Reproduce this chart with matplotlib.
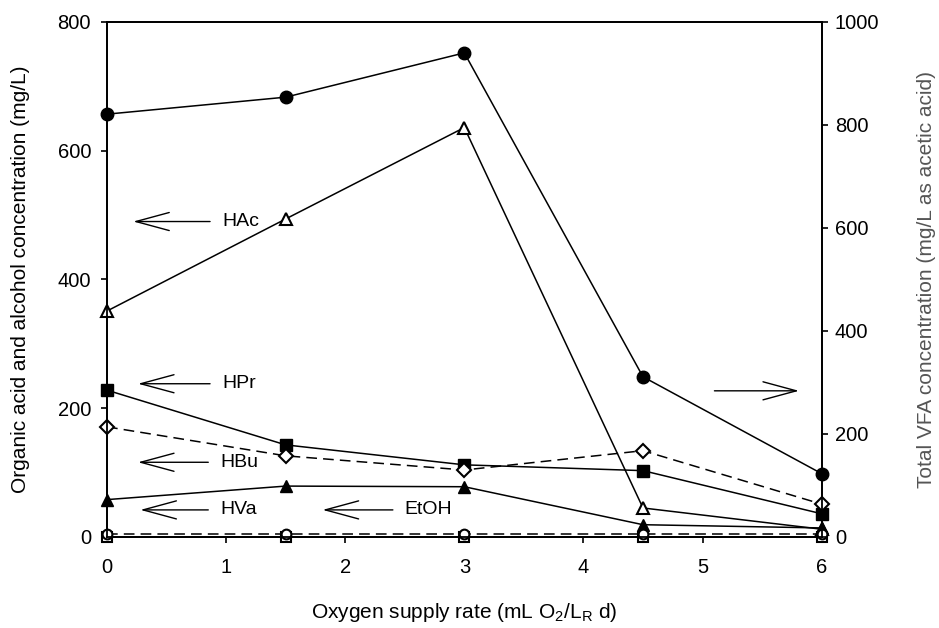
import numpy as np
import matplotlib.pyplot as plt

plt.rcParams['font.family'] = ['Liberation Sans', 'DejaVu Sans']
plt.rcParams['mathtext.default'] = 'regular'

# oxygen supply rate (mL O2/L_R d)
x = [0, 1.5, 3, 4.5, 6]

# organic acids and ethanol, mg/L (left axis)
hac = [351, 494, 636, 45, 12]
hpr = [228, 143, 112, 103, 36]
hbu = [171, 126, 104, 134, 51]
hva = [58, 79, 78, 19, 14]
etoh = [5, 5, 5, 5, 5]
other = [0, 0, 0, 0, 0]

# total VFA as acetic acid, mg/L (right axis)
tvfa = [821, 854, 940, 311, 123]

fig = plt.figure(figsize=(9.39, 6.28), dpi=100)
ax = fig.add_axes([0.114, 0.145, 0.761, 0.82])
ax2 = ax.twinx()

lw = 1.1
ax.plot(x, hac, '-', color='black', lw=lw, marker='^', ms=8, mfc='white', mec='black', mew=1.5, clip_on=False, zorder=3)
ax.plot(x, hpr, '-', color='black', lw=lw, marker='s', ms=8, mfc='black', mec='black', clip_on=False, zorder=3)
ax.plot(x, hbu, '--', color='black', lw=lw, dashes=(7, 4), marker='D', ms=7, mfc='white', mec='black', mew=1.5, clip_on=False, zorder=3)
ax.plot(x, hva, '-', color='black', lw=lw, marker='^', ms=8, mfc='black', mec='black', clip_on=False, zorder=3)
ax.plot(x, other, '-', color='black', lw=lw, marker='s', ms=7, mfc='white', mec='black', mew=1.5, clip_on=False, zorder=3)
ax.plot(x, etoh, '--', color='black', lw=lw, dashes=(7, 4), marker='o', ms=7, mfc='white', mec='black', mew=1.5, clip_on=False, zorder=3)
ax2.plot(x, tvfa, '-', color='black', lw=lw, marker='o', ms=9, mfc='black', mec='black', clip_on=False, zorder=3)

ax.set_xlim(0, 6)
ax.set_ylim(0, 800)
ax2.set_ylim(0, 1000)
ax.set_xticks(range(7))
ax.set_yticks([0, 200, 400, 600, 800])
ax2.set_yticks([0, 200, 400, 600, 800, 1000])

for a in (ax, ax2):
    a.tick_params(labelsize=14.5, length=4.5, width=1.2, direction='out', pad=5)
    for s in a.spines.values():
        s.set_linewidth(1.3)
ax.tick_params(axis='x', pad=11)
ax.tick_params(axis='y', pad=7)

ax.set_xlabel('Oxygen supply rate (mL O$_2$/L$_R$ d)', fontsize=15)
ax.set_ylabel('Organic acid and alcohol concentration (mg/L)', fontsize=15)
ax2.set_ylabel('Total VFA concentration (mg/L as acetic acid)', fontsize=15, color='#555555')
ax.xaxis.set_label_coords(0.5, -0.125)
ax.yaxis.set_label_coords(-0.108, 0.5)
ax2.yaxis.set_label_coords(1.133, 0.5)

# arrows pointing to the matching axis
arr = dict(arrowstyle='->, head_length=2.4, head_width=0.65', color='black', lw=1.0,
           shrinkA=0, shrinkB=0)
labels = [('HAc', 0.22, 0.865, 490), ('HPr', 0.26, 0.865, 238), ('HBu', 0.26, 0.85, 116),
          ('HVa', 0.28, 0.85, 42), ('EtOH', 1.81, 2.40, 42)]
for name, x0, x1, yy in labels:
    ax.annotate('', xy=(x0, yy), xytext=(x1, yy), arrowprops=arr)
    ax.text(x1 + 0.1, yy, name, fontsize=14, va='center', ha='left')
ax.annotate('', xy=(5.81, 227), xytext=(5.10, 227), arrowprops=arr)

fig.savefig('out.png', dpi=100)
